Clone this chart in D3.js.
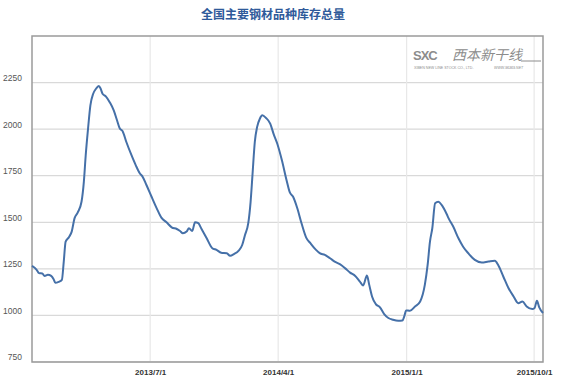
<!DOCTYPE html>
<meta charset="utf-8">
<script src="https://d3js.org/d3.v7.min.js"></script>
<style>
  body { margin: 0; background: #fff; }
  svg { font-family: "Liberation Sans", Arial, sans-serif; }
</style>
<div id="chart"></div>
<script>
    // Dates and stock totals (10k tonnes)
    const dates = [
        "2012-10-21","2012-10-31","2012-11-05","2012-11-12","2012-11-17","2012-11-24","2012-12-01","2012-12-06","2012-12-10","2012-12-17","2012-12-24","2012-12-28",
        "2013-01-01","2013-01-08","2013-01-14","2013-01-20","2013-01-27","2013-02-04","2013-02-09","2013-02-13","2013-02-18","2013-02-23","2013-03-01","2013-03-07","2013-03-13","2013-03-17","2013-03-21","2013-03-28","2013-04-06","2013-04-14","2013-04-21","2013-04-27","2013-05-03","2013-05-11","2013-05-22","2013-05-31","2013-06-09","2013-06-14","2013-06-23","2013-07-04","2013-07-15","2013-07-25","2013-08-05","2013-08-16","2013-08-27","2013-09-03","2013-09-09","2013-09-17","2013-09-22","2013-09-29","2013-10-05","2013-10-12","2013-10-19","2013-10-30","2013-11-11","2013-11-20","2013-11-30","2013-12-12","2013-12-19","2013-12-28",
        "2014-01-06","2014-01-14","2014-01-20","2014-01-27","2014-02-01","2014-02-05","2014-02-10","2014-02-15","2014-02-21","2014-02-26","2014-03-06","2014-03-15","2014-03-22","2014-03-30","2014-04-09","2014-04-19","2014-04-26","2014-05-03","2014-05-12","2014-05-21","2014-05-31","2014-06-09","2014-06-21","2014-06-29","2014-07-10","2014-07-21","2014-07-31","2014-08-11","2014-08-22","2014-09-02","2014-09-13","2014-09-23","2014-09-30","2014-10-08","2014-10-13","2014-10-19","2014-10-27","2014-11-05","2014-11-14","2014-11-23","2014-12-03","2014-12-14","2014-12-23","2014-12-27","2014-12-31",
        "2015-01-08","2015-01-19","2015-01-30","2015-02-09","2015-02-15","2015-02-20","2015-02-25","2015-03-03","2015-03-10","2015-03-17","2015-03-28","2015-04-01","2015-04-11","2015-04-22","2015-05-02","2015-05-13","2015-05-27","2015-06-11","2015-06-25","2015-07-09","2015-07-16","2015-07-27","2015-08-07","2015-08-18","2015-08-28","2015-09-06","2015-09-15","2015-09-27","2015-10-02","2015-10-07","2015-10-12","2015-10-20"
    ];
    const stock = [
        1266,1245,1227,1225,1212,1218,1212,1196,1175,1180,1191,1289,
        1396,1420,1450,1521,1553,1610,1717,1860,2003,2128,2190,2217,2231,2217,2190,2176,2142,2101,2048,2003,1989,1931,1860,1807,1762,1748,1700,1637,1575,1525,1500,1473,1464,1453,1441,1450,1468,1453,1500,1495,1464,1414,1361,1352,1337,1334,1320,1330,
        1346,1378,1432,1495,1610,1753,1931,2012,2057,2074,2060,2030,1976,1923,1833,1726,1660,1637,1575,1495,1418,1388,1352,1334,1325,1307,1289,1275,1254,1230,1212,1182,1161,1214,1164,1102,1061,1043,1007,986,977,972,973,995,1027,
        1025,1048,1075,1164,1271,1396,1468,1602,1610,1593,1543,1521,1476,1414,1369,1334,1298,1284,1289,1293,1271,1209,1147,1102,1066,1075,1048,1034,1040,1079,1043,1013
    ];
    const yTicks = [750, 1000, 1250, 1500, 1750, 2000, 2250];
    const xTicks = ["2013-07-01", "2014-04-01", "2015-01-01", "2015-10-01"];
    const xTickLabels = ["2013/7/1", "2014/4/1", "2015/1/1", "2015/10/1"];
    const title = "全国主要钢材品种库存总量";

    const parse = d3.timeParse("%Y-%m-%d");
    const data = dates.map((d, i) => ({ date: parse(d), value: stock[i] }));

    const margin = {top: 36, right: 18, bottom: 23, left: 32},
          width = 561 - margin.left - margin.right,
          height = 385 - margin.top - margin.bottom;

    const root = d3.select("#chart")
        .append("svg")
        .attr("width", 561)
        .attr("height", 385);

    // Title
    root.append("text")
        .attr("x", 273)
        .attr("y", 19)
        .attr("text-anchor", "middle")
        .style("font-family", "'Noto Sans CJK SC', sans-serif")
        .style("font-size", "12px")
        .style("font-weight", "bold")
        .style("fill", "#2f5a9a")
        .text(title);

    const svg = root.append("g")
        .attr("transform", `translate(${margin.left}, ${margin.top})`);

    const x = d3.scaleTime()
        .domain([data[0].date, data[data.length - 1].date])
        .range([0, width]);

    const y = d3.scaleLinear()
        .domain([750, 2500])
        .range([height, 0]);

    // Gridlines
    svg.append("g")
        .selectAll("line")
        .data(yTicks)
        .join("line")
            .attr("x1", 0)
            .attr("x2", width)
            .attr("y1", d => y(d))
            .attr("y2", d => y(d))
            .attr("stroke", "#d9d9d9")
            .attr("stroke-width", 1.2);

    svg.append("g")
        .selectAll("line")
        .data(xTicks.map(parse))
        .join("line")
            .attr("x1", d => x(d))
            .attr("x2", d => x(d))
            .attr("y1", 0)
            .attr("y2", height)
            .attr("stroke", "#e8e8e8")
            .attr("stroke-width", 1.2);

    // Y labels (sit a little above their gridlines)
    svg.append("g")
        .selectAll("text")
        .data(yTicks)
        .join("text")
            .attr("x", -10)
            .attr("y", d => y(d) - 4.5)
            .attr("dy", "0.35em")
            .attr("text-anchor", "end")
            .style("font-size", "8.5px")
            .style("fill", "#555")
            .text(d => d);

    // X labels
    const xAxis = d3.axisBottom(x)
        .tickValues(xTicks.map(parse))
        .tickFormat((d, i) => xTickLabels[i])
        .tickSize(0)
        .tickPadding(7);

    svg.append("g")
        .attr("transform", `translate(0, ${height})`)
        .call(xAxis)
        .call(g => g.select(".domain").remove())
        .call(g => g.selectAll("text")
            .style("font-size", "8px")
            .style("font-weight", "bold")
            .style("fill", "#333"));

    // Plot frame
    svg.append("rect")
        .attr("x", 0)
        .attr("y", 0)
        .attr("width", width)
        .attr("height", height)
        .attr("fill", "none")
        .attr("stroke", "#9a9a9a")
        .attr("stroke-width", 1.5);

    // Logo
    const logo = root.append("g").style("fill", "#8c8c8c");
    logo.append("text")
        .attr("x", 413)
        .attr("y", 60)
        .style("font-size", "13px")
        .style("font-weight", "bold")
        .style("letter-spacing", "-1px")
        .text("SXC");
    logo.append("text")
        .attr("x", 452)
        .attr("y", 60)
        .style("font-family", "'Noto Sans CJK SC', sans-serif")
        .style("font-size", "14px")
        .style("font-style", "italic")
        .text("西本新干线");
    logo.append("line")
        .attr("x1", 521).attr("x2", 541)
        .attr("y1", 61).attr("y2", 61)
        .attr("stroke", "#8c8c8c");
    logo.append("text")
        .attr("x", 414)
        .attr("y", 69)
        .style("font-size", "3.6px")
        .text("XIBEN NEW LINE STOCK CO., LTD.");
    logo.append("text")
        .attr("x", 494)
        .attr("y", 69)
        .style("font-size", "3.6px")
        .style("font-style", "italic")
        .text("WWW.96369.NET");

    // Line
    const line = d3.line()
        .x(d => x(d.date))
        .y(d => y(d.value))
        .curve(d3.curveMonotoneX);

    svg.append("path")
        .datum(data)
        .attr("fill", "none")
        .attr("stroke", "#4570a8")
        .attr("stroke-width", 2)
        .attr("d", line);
</script>
